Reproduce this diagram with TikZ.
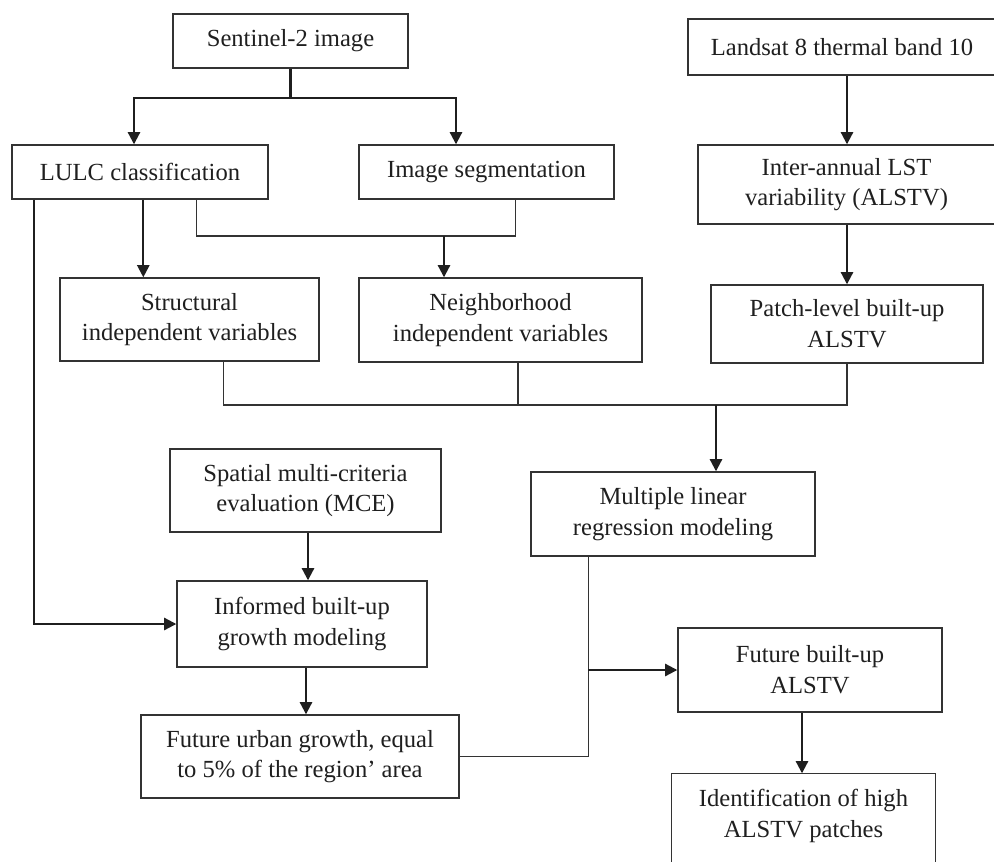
\documentclass[tikz,border=0pt]{standalone}
\usepackage{fontspec}
\setmainfont{Liberation Serif}
\usetikzlibrary{arrows.meta,calc}

\begin{document}
\begin{tikzpicture}[x=0.02cm,y=-0.02cm,
	box/.style 2 args={draw=black!80,line width=0.8pt,text=black!88,align=center,
		minimum width=#1*0.02cm,minimum height=#2*0.02cm,inner sep=0pt,
		font=\fontsize{14}{17.5}\selectfont},
	link/.style={draw=black!80,line width=0.7pt},
	arr/.style={draw=black!88,line width=1.2pt,-{Triangle[length=7pt,width=7pt]}}]

	\useasboundingbox (0,0) rectangle (994,862);
	\clip (0,0) rectangle (994,862);

	% boxes
	\node[box={235}{54}] (sent) at (290.5,41) {Sentinel-2 image};
	\node[box={256}{54}] (lulc) at (140,172) {LULC classification};
	\node[box={255}{54}] (seg) at (486.5,172) {Image segmentation};
	\node[box={308}{56}] (land) at (842,47) {Landsat 8 thermal band 10};
	\node[box={297}{79}] (inter) at (846.5,184.5) {Inter-annual LST\\variability (ALSTV)};
	\node[box={272}{78}] (patch) at (847,324) {Patch-level built-up\\ALSTV};
	\node[box={259}{83}] (struct) at (189.5,319.5) {Structural\\independent variables};
	\node[box={283}{84}] (neigh) at (500.5,320) {Neighborhood\\independent variables};
	\node[box={284}{84}] (mlr) at (673,514) {Multiple linear\\regression modeling};
	\node[box={271}{83}] (mce) at (305.5,490.5) {Spatial multi-criteria\\evaluation (MCE)};
	\node[box={250}{86}] (inf) at (302,624) {Informed built-up\\growth modeling};
	\node[box={318}{83}] (urban) at (300,756.5) {Future urban growth, equal\\to 5\% of the region' area};
	\node[box={264}{84}] (fut) at (810,670) {Future built-up\\ALSTV};
	\node[box={263}{84},draw=none] (ident) at (803.5,816) {Identification of high\\ALSTV patches};
	\draw[draw=black!80,line width=0.8pt] ($(ident.south west)+(0,30)$) |- (ident.north east) -- ++(0,90);

	% split of the sentinel image
	\coordinate (sL) at (134,98);
	\coordinate (sR) at (456,98);
	\draw[arr] (sent.south) |- (sL) -- (sL |- lulc.north);
	\draw[arr] (sent.south) |- (sR) -- (sR |- seg.north);

	% thermal branch
	\coordinate (ta) at (847,0);
	\draw[arr] (ta |- land.south) -- (ta |- inter.north);
	\draw[arr] (ta |- inter.south) -- (ta |- patch.north);

	% variables
	\coordinate (la) at ($(lulc.south west)+(132,0)$);
	\draw[arr] (la) -- (la |- struct.north);
	\coordinate (lb) at ($(lulc.south west)+(185,0)$);
	\coordinate (sb) at ($(seg.south west)+(157,0)$);
	\coordinate (jn) at (444,236);
	\draw[link] (lb) |- (jn) -| (sb);
	\draw[arr] (jn) -- (jn |- neigh.north);

	% LULC to growth model
	\coordinate (lc) at ($(lulc.south west)+(23,0)$);
	\draw[arr] (lc) |- (inf.west);

	% merge into the regression
	\coordinate (jm) at (716,405);
	\coordinate (nb) at ($(neigh.south)+(17.5,0)$);
	\draw[link] ($(struct.south west)+(164,0)$) |- (jm) -| (patch.south);
	\draw[link] (nb) -- (nb |- jm);
	\draw[arr] (jm) -- (jm |- mlr.north);

	% growth chain
	\coordinate (ma) at (308,0);
	\draw[arr] (ma |- mce.south) -- (ma |- inf.north);
	\coordinate (ia) at (306,0);
	\draw[arr] (ia |- inf.south) -- (ia |- urban.north);

	% future ALSTV
	\coordinate (mb) at ($(mlr.south west)+(58,0)$);
	\draw[link] (urban.east) -| (mb);
	\draw[arr] (mb |- fut.west) -- (fut.west);
	\coordinate (fa) at ($(fut.south)+(-8,0)$);
	\draw[arr] (fa) -- (fa |- ident.north);
\end{tikzpicture}
\end{document}
